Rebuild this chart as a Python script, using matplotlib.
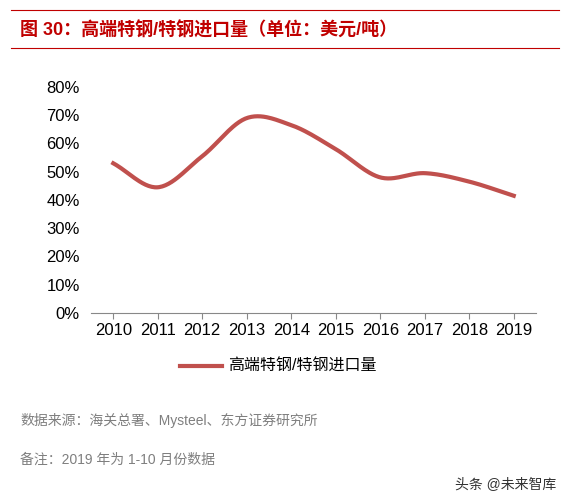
import numpy as np
import matplotlib
matplotlib.use("Agg")
import matplotlib.pyplot as plt
from matplotlib.lines import Line2D

plt.rcParams['font.family'] = ['Liberation Sans', 'Noto Sans CJK SC', 'DejaVu Sans']

years = ["2010","2011","2012","2013","2014","2015","2016","2017","2018","2019"]
values = [53.0, 44.5, 55.5, 69.0, 66.5, 58.0, 48.0, 49.5, 46.5, 41.5]
yticks = [0,10,20,30,40,50,60,70,80]
series_name = "高端特钢/特钢进口量"
title = "图 30：高端特钢/特钢进口量（单位：美元/吨）"
source = "数据来源：海关总署、Mysteel、东方证券研究所"
note = "备注：2019 年为 1-10 月份数据"

def catmull(x, y, n=30):
    x = np.asarray(x, float); y = np.asarray(y, float)
    px = np.concatenate([[2*x[0]-x[1]], x, [2*x[-1]-x[-2]]])
    py = np.concatenate([[2*y[0]-y[1]], y, [2*y[-1]-y[-2]]])
    xs, ys = [], []
    t = np.linspace(0, 1, n)
    for i in range(1, len(px)-2):
        for arr, out in ((px, xs), (py, ys)):
            p0, p1, p2, p3 = arr[i-1], arr[i], arr[i+1], arr[i+2]
            out.extend(0.5*((2*p1) + (-p0+p2)*t + (2*p0-5*p1+4*p2-p3)*t**2 + (-p0+3*p1-3*p2+p3)*t**3))
    return np.array(xs), np.array(ys)

W, H = 573, 503
fig = plt.figure(figsize=(W/100, H/100), dpi=100)
red = "#C00000"
line_c = "#C0504D"

fig.add_artist(Line2D([0.02, 0.975], [1-10/H, 1-10/H], color=red, lw=0.8))
fig.add_artist(Line2D([0.02, 0.975], [1-48/H, 1-48/H], color=red, lw=0.8))
fig.text(0.035, 1-30/H, title, color=red, fontsize=13, fontweight='bold', va='center')

ax = fig.add_axes([91/W, 1-313/H, (536-91)/W, (313-87)/H])
x = np.arange(len(years))
sx, sy = catmull(x, values)
ax.plot(sx, sy, color=line_c, lw=3)
ax.set_xlim(-0.5, len(years)-0.5)
ax.set_ylim(0, 80)
ax.set_yticks(yticks)
ax.set_yticklabels([f"{v}%" for v in yticks], fontsize=12)
ax.set_xticks(x)
ax.set_xticklabels(years, fontsize=12)
for s in ["top", "right", "left"]:
    ax.spines[s].set_visible(False)
ax.spines["bottom"].set_color("#888888")
ax.tick_params(axis='y', length=0, pad=8)
ax.tick_params(axis='x', length=4, color="#888888", direction='out')

fig.add_artist(Line2D([180/W, 222/W], [1-366/H, 1-366/H], color=line_c, lw=3))
fig.text(228/W, 1-366/H, series_name, fontsize=11.5, va='center')

fig.text(20/W, 1-421/H, source, fontsize=10, color="#7F7F7F", va='center')
fig.text(20/W, 1-460/H, note, fontsize=10, color="#7F7F7F", va='center')
fig.text(455/W, 1-485/H, "头条 @未来智库", fontsize=10, color="#333333", va='center')

fig.savefig("out.png", dpi=100)
